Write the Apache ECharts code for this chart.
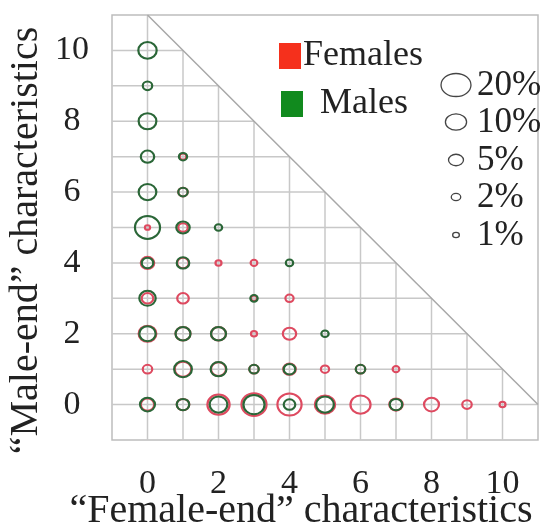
<!DOCTYPE html>
<html>
<head>
<meta charset="utf-8">
<script src="https://cdn.jsdelivr.net/npm/echarts@6/dist/echarts.min.js"></script>
<style>html,body{margin:0;padding:0;background:#fff}#c{width:545px;height:529px}
#fl{position:absolute;left:-999px;top:0;font-family:'Liberation Serif';font-size:30px}</style>
</head>
<body>
<div id="fl">Females Males 0123456789%</div>
<div id="c"></div>
<script>
// ---- data: [female-end count, male-end count, percent] ----
const femalePts = [
  [0,5,0.6],[0,4,4],[0,3,3],[0,2,7],[0,1,2],[0,0,4],
  [1,7,1],[1,6,2],[1,5,2],[1,4,3],[1,3,3],[1,2,5],[1,1,6],[1,0,3.5],
  [2,4,0.8],[2,2,5],[2,1,5],[2,0,11],
  [3,4,1],[3,3,0.8],[3,2,0.8],[3,1,2],[3,0,14],
  [4,3,1.5],[4,2,4],[4,1,3.5],[4,0,13],
  [5,1,1.5],[5,0,9],
  [6,1,2],[6,0,9],
  [7,1,1],[7,0,4],
  [8,0,5],[9,0,2],[10,0,0.8]
];
const malePts = [
  [0,10,7.5],[0,9,2],[0,8,7],[0,7,4],[0,6,7],[0,5,14],[0,4,3],[0,3,6],[0,2,6],[0,0,5],
  [1,7,1.5],[1,6,2],[1,5,4],[1,4,3.5],[1,2,5],[1,1,7],[1,0,3.5],
  [2,5,1.2],[2,2,5],[2,1,5.5],[2,0,7],
  [3,3,1.2],[3,1,2],[3,0,10],
  [4,4,1.2],[4,1,3],[4,0,3],
  [5,2,1.2],[5,0,7],
  [6,1,2],
  [7,0,3.5]
];
const tickValues = [0,2,4,6,8,10];
const sizeLegend = [20,10,5,2,1];
const seriesNames = ['Females','Males'];
const xTitle = '\u201cFemale-end\u201d characteristics';
const yTitle = '\u201cMale-end\u201d characteristics';

const FONT = "'Liberation Serif', 'Times New Roman', Times, 'DejaVu Serif', serif";
const RED = '#de4a60', GREEN = '#2a6637';
const sizeOf = p => 6.7 * Math.sqrt(p);

// clipped grid lines (triangle x+y<=11) and the diagonal
const gridSegs = [];
for (let i = 0; i <= 10; i++) gridSegs.push([i, -1, i, 11 - i]);
for (let j = 0; j <= 10; j++) gridSegs.push([-1, j, 11 - j, j]);
const diag = [[0, 11, 11, 0]];

const segSeries = (data, color, w) => ({
  type: 'custom', silent: true, z: 1,
  encode: { x: [0, 2], y: [1, 3] },
  data: data,
  renderItem: (params, api) => {
    const a = api.coord([api.value(0), api.value(1)]);
    const b = api.coord([api.value(2), api.value(3)]);
    return { type: 'line', shape: { x1: a[0], y1: a[1], x2: b[0], y2: b[1] },
             style: { stroke: color, lineWidth: w } };
  }
});

const labelFmt = v => (tickValues.indexOf(v) >= 0 ? String(v) : '');

function draw() {
  const chart = echarts.init(document.getElementById('c'));
  const graphics = [];
  let gy = 85;
  const gaps = [37, 38, 37, 38];
  sizeLegend.forEach((p, k) => {
    const w = sizeOf(p);
    graphics.push({ type: 'ellipse', shape: { cx: 456, cy: gy, rx: w / 2, ry: w / 2 / 1.3 },
      style: { fill: 'none', stroke: '#444', lineWidth: 1.3 } });
    graphics.push({ type: 'text', x: 477, y: gy + 1, style: { text: p + '%', fontSize: 35, fontFamily: FONT, fill: '#222', verticalAlign: 'middle' } });
    gy += gaps[k] || 0;
  });

  chart.setOption({
    animation: false,
    textStyle: { fontFamily: FONT },
    grid: { left: 112, right: 7, top: 15, bottom: 89, show: true, borderColor: '#bdbdbd', borderWidth: 1.5,
            containLabel: false, outerBoundsMode: 'none' },
    xAxis: {
      type: 'value', min: -1, max: 11, interval: 1,
      axisLine: { show: false }, axisTick: { show: false }, splitLine: { show: false },
      axisLabel: { formatter: labelFmt, margin: 27, fontSize: 34, fontFamily: FONT, color: '#222' },
      name: xTitle, nameLocation: 'middle', nameGap: 51, nameMoveOverlap: false,
      nameTextStyle: { fontSize: 40, fontFamily: FONT, color: '#222', padding: [0, 48, 0, 0] }
    },
    yAxis: {
      type: 'value', min: -1, max: 11, interval: 1,
      axisLine: { show: false }, axisTick: { show: false }, splitLine: { show: false },
      axisLabel: { formatter: labelFmt, margin: 40, align: 'center', fontSize: 34, fontFamily: FONT, color: '#222' },
      name: yTitle, nameLocation: 'middle', nameGap: 66, nameRotate: 90, nameMoveOverlap: false,
      nameTextStyle: { fontSize: 40, fontFamily: FONT, color: '#222', padding: [0, 26, 0, 0] }
    },
    legend: [
      { data: [{ name: 'Females', itemStyle: { color: '#f5301c', borderWidth: 0, opacity: 1 } }],
        left: 279, top: 38, padding: 0, icon: 'rect', itemWidth: 22, itemHeight: 26,
        textStyle: { fontSize: 36, fontFamily: FONT, color: '#222', padding: [0, 0, 0, -3] } },
      { data: [{ name: 'Males', itemStyle: { color: '#118a1e', borderWidth: 0, opacity: 1 } }],
        left: 281, top: 86, padding: 0, icon: 'rect', itemWidth: 22, itemHeight: 26,
        textStyle: { fontSize: 36, fontFamily: FONT, color: '#222', padding: [0, 0, 0, 12] } }
    ],
    graphic: graphics,
    series: [
      segSeries(gridSegs, '#c8c8c8', 1.5),
      segSeries(diag, '#a8a8a8', 1.5),
      { name: seriesNames[0], type: 'scatter', z: 3, data: femalePts,
        symbolSize: v => [sizeOf(v[2]), sizeOf(v[2]) / 1.1],
        itemStyle: { color: 'transparent', borderColor: RED, borderWidth: 2.1, opacity: 1 } },
      { name: seriesNames[1], type: 'scatter', z: 4, data: malePts,
        symbolSize: v => [sizeOf(v[2]), sizeOf(v[2]) / 1.1],
        itemStyle: { color: 'transparent', borderColor: GREEN, borderWidth: 2.1, opacity: 1 } }
    ]
  });
}

let done = false;
const go = () => { if (!done) { done = true; draw(); } };
if (document.fonts && document.fonts.load) {
  Promise.all([
    document.fonts.load("34px 'Liberation Serif'"),
    document.fonts.load("40px 'Liberation Serif'")
  ]).then(go, go);
  setTimeout(go, 800);
} else { go(); }
</script>
</body>
</html>
